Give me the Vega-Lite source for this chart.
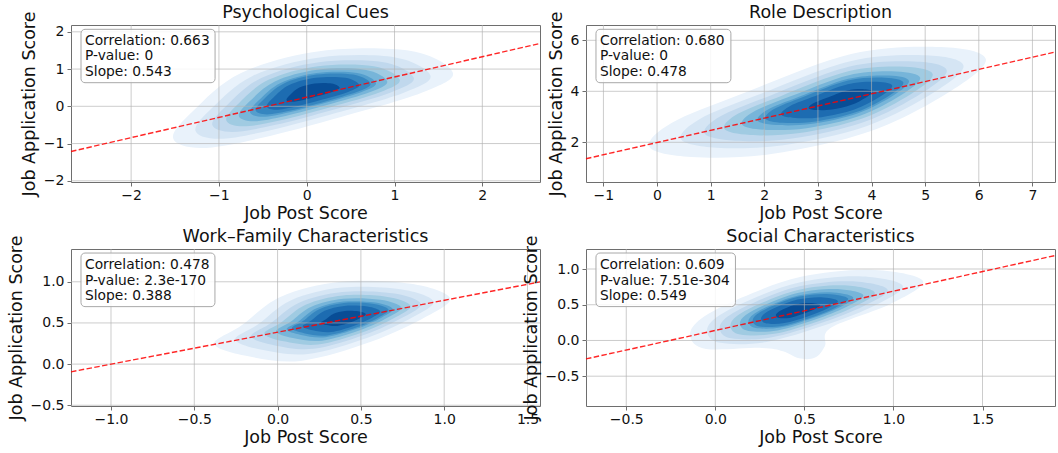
{
"$schema":"https://vega.github.io/schema/vega-lite/v6.json",
"background":"white",
"padding":{"left":6,"top":3,"right":2,"bottom":2},
"bounds":"flush",
"columns":2,
"spacing":{"row":67,"column":46},
"config":{
"font":"DejaVu Sans",
"view":{"stroke":"#6e6e6e","strokeWidth":1},
"axis":{"grid":false,"domain":false,"tickSize":4,"tickColor":"#6e6e6e","labelFontSize":14,"labelColor":"#111111","labelFont":"DejaVu Sans","titleFont":"DejaVu Sans","titleFontSize":17.5,"titleFontWeight":"normal","titleColor":"#111111","labelPadding":3,"titlePadding":5,"labelFlush":false,"labelOverlap":false},
"axisX":{"labelPadding":2,"titlePadding":2},
"title":{"fontSize":17.5,"fontWeight":"normal","font":"DejaVu Sans","color":"#111111","offset":-10,"anchor":"middle","frame":"group"}
},
"concat":[
{"width":469,"height":157,"title":"Psychological Cues",
"encoding":{"x":{"field":"x","type":"quantitative","title":"Job Post Score","scale":{"domain":[-2.685,2.657],"nice":false,"zero":false},"axis":{"values":[-2,-1,0,1,2],"format":"d"}},
"y":{"field":"y","type":"quantitative","title":"Job Application Score","scale":{"domain":[-2.032,2.183],"nice":false,"zero":false},"axis":{"values":[-2,-1,0,1,2],"format":"d"}}},
"layer":[
{"data":{"values":[
{"l":1,"i":0,"x":-1.523,"y":-0.851},{"l":1,"i":1,"x":-1.295,"y":-0.126},{"l":1,"i":2,"x":-0.748,"y":0.894},{"l":1,"i":3,"x":0.163,"y":1.485},{"l":1,"i":4,"x":1.188,"y":1.485},{"l":1,"i":5,"x":1.666,"y":0.894},{"l":1,"i":6,"x":1.302,"y":0.357},{"l":1,"i":7,"x":0.391,"y":-0.287},{"l":1,"i":8,"x":-0.520,"y":-0.851},{"l":1,"i":9,"x":-1.204,"y":-1.119},
{"l":2,"i":0,"x":-1.268,"y":-0.649},{"l":2,"i":1,"x":-1.076,"y":-0.040},{"l":2,"i":2,"x":-0.617,"y":0.817},{"l":2,"i":3,"x":0.148,"y":1.313},{"l":2,"i":4,"x":1.009,"y":1.313},{"l":2,"i":5,"x":1.411,"y":0.817},{"l":2,"i":6,"x":1.105,"y":0.366},{"l":2,"i":7,"x":0.340,"y":-0.175},{"l":2,"i":8,"x":-0.425,"y":-0.649},{"l":2,"i":9,"x":-1.000,"y":-0.874},
{"l":3,"i":0,"x":-1.076,"y":-0.498},{"l":3,"i":1,"x":-0.912,"y":0.024},{"l":3,"i":2,"x":-0.518,"y":0.759},{"l":3,"i":3,"x":0.138,"y":1.184},{"l":3,"i":4,"x":0.876,"y":1.184},{"l":3,"i":5,"x":1.220,"y":0.759},{"l":3,"i":6,"x":0.958,"y":0.372},{"l":3,"i":7,"x":0.302,"y":-0.092},{"l":3,"i":8,"x":-0.354,"y":-0.498},{"l":3,"i":9,"x":-0.847,"y":-0.691},
{"l":4,"i":0,"x":-0.917,"y":-0.371},{"l":4,"i":1,"x":-0.776,"y":0.078},{"l":4,"i":2,"x":-0.436,"y":0.710},{"l":4,"i":3,"x":0.128,"y":1.077},{"l":4,"i":4,"x":0.764,"y":1.077},{"l":4,"i":5,"x":1.060,"y":0.710},{"l":4,"i":6,"x":0.835,"y":0.378},{"l":4,"i":7,"x":0.270,"y":-0.022},{"l":4,"i":8,"x":-0.295,"y":-0.371},{"l":4,"i":9,"x":-0.719,"y":-0.538},
{"l":5,"i":0,"x":-0.773,"y":-0.258},{"l":5,"i":1,"x":-0.653,"y":0.126},{"l":5,"i":2,"x":-0.363,"y":0.667},{"l":5,"i":3,"x":0.120,"y":0.980},{"l":5,"i":4,"x":0.663,"y":0.980},{"l":5,"i":5,"x":0.917,"y":0.667},{"l":5,"i":6,"x":0.724,"y":0.382},{"l":5,"i":7,"x":0.241,"y":0.041},{"l":5,"i":8,"x":-0.242,"y":-0.258},{"l":5,"i":9,"x":-0.604,"y":-0.400},
{"l":6,"i":0,"x":-0.646,"y":-0.157},{"l":6,"i":1,"x":-0.543,"y":0.169},{"l":6,"i":2,"x":-0.297,"y":0.628},{"l":6,"i":3,"x":0.113,"y":0.894},{"l":6,"i":4,"x":0.574,"y":0.894},{"l":6,"i":5,"x":0.789,"y":0.628},{"l":6,"i":6,"x":0.626,"y":0.387},{"l":6,"i":7,"x":0.216,"y":0.097},{"l":6,"i":8,"x":-0.194,"y":-0.157},{"l":6,"i":9,"x":-0.502,"y":-0.278},
{"l":7,"i":0,"x":-0.582,"y":-0.107},{"l":7,"i":1,"x":-0.489,"y":0.191},{"l":7,"i":2,"x":-0.264,"y":0.609},{"l":7,"i":3,"x":0.110,"y":0.851},{"l":7,"i":4,"x":0.530,"y":0.851},{"l":7,"i":5,"x":0.726,"y":0.609},{"l":7,"i":6,"x":0.577,"y":0.389},{"l":7,"i":7,"x":0.203,"y":0.125},{"l":7,"i":8,"x":-0.171,"y":-0.107},{"l":7,"i":9,"x":-0.451,"y":-0.217},
{"l":8,"i":0,"x":-0.455,"y":-0.006},{"l":8,"i":1,"x":-0.379,"y":0.234},{"l":8,"i":2,"x":-0.199,"y":0.571},{"l":8,"i":3,"x":0.102,"y":0.765},{"l":8,"i":4,"x":0.441,"y":0.765},{"l":8,"i":5,"x":0.598,"y":0.571},{"l":8,"i":6,"x":0.478,"y":0.393},{"l":8,"i":7,"x":0.178,"y":0.181},{"l":8,"i":8,"x":-0.124,"y":-0.006},{"l":8,"i":9,"x":-0.349,"y":-0.094},
{"l":9,"i":0,"x":-0.231,"y":0.171},{"l":9,"i":1,"x":-0.188,"y":0.309},{"l":9,"i":2,"x":-0.084,"y":0.503},{"l":9,"i":3,"x":0.089,"y":0.615},{"l":9,"i":4,"x":0.284,"y":0.615},{"l":9,"i":5,"x":0.375,"y":0.503},{"l":9,"i":6,"x":0.306,"y":0.401},{"l":9,"i":7,"x":0.133,"y":0.278},{"l":9,"i":8,"x":-0.040,"y":0.171},{"l":9,"i":9,"x":-0.170,"y":0.120}
]},
"mark":{"type":"line","interpolate":"cardinal-closed","strokeWidth":0,"clip":true},
"encoding":{"fill":{"field":"l","type":"ordinal","scale":{"domain":[1,2,3,4,5,6,7,8,9],"range":["#e9f2fb","#d5e5f4","#c0d8ed","#a0cbe2","#77b5d9","#549ecd","#3686c0","#1d6cb1","#084d96"]},"legend":null},"detail":{"field":"l","type":"ordinal"},"order":{"field":"i","type":"quantitative"}}},
{"data":{"values":[{"x":-2,"x2":-2,"y":-2.032,"y2":2.183},{"x":-1,"x2":-1,"y":-2.032,"y2":2.183},{"x":0,"x2":0,"y":-2.032,"y2":2.183},{"x":1,"x2":1,"y":-2.032,"y2":2.183},{"x":2,"x2":2,"y":-2.032,"y2":2.183},
{"x":-2.685,"x2":2.657,"y":-2,"y2":-2},{"x":-2.685,"x2":2.657,"y":-1,"y2":-1},{"x":-2.685,"x2":2.657,"y":0,"y2":0},{"x":-2.685,"x2":2.657,"y":1,"y2":1},{"x":-2.685,"x2":2.657,"y":2,"y2":2}]},
"mark":{"type":"rule","color":"#b0b0b0","opacity":0.65,"strokeWidth":1},
"encoding":{"x2":{"field":"x2"},"y2":{"field":"y2"}}},
{"data":{"values":[{"x":-2.685,"y":-1.213,"x2":2.657,"y2":1.688}]},
"mark":{"type":"rule","color":"#ff0000","opacity":0.85,"strokeWidth":1.4,"strokeDash":[5.5,2.4]},
"encoding":{"x2":{"field":"x2"},"y2":{"field":"y2"}}},
{"data":{"values":[{"x":-2.571,"x2":-1.044,"y":2.067,"y2":0.634}]},
"mark":{"type":"rect","fill":"white","fillOpacity":0.85,"stroke":"#a8a8a8","strokeWidth":1,"cornerRadius":4},
"encoding":{"x2":{"field":"x2"},"y2":{"field":"y2"}}},
{"data":{"values":[{"x":-2.525,"y":1.646,"t":"Correlation: 0.663"},{"x":-2.525,"y":1.230,"t":"P-value: 0"},{"x":-2.525,"y":0.813,"t":"Slope: 0.543"}]},
"mark":{"type":"text","align":"left","baseline":"alphabetic","fontSize":13.8,"font":"DejaVu Sans","color":"#111111"},
"encoding":{"text":{"field":"t"}}}
]},
{"width":469,"height":157,"title":"Role Description",
"encoding":{"x":{"field":"x","type":"quantitative","title":"Job Post Score","scale":{"domain":[-1.325,7.421],"nice":false,"zero":false},"axis":{"values":[-1,0,1,2,3,4,5,6,7],"format":"d"}},
"y":{"field":"y","type":"quantitative","title":"Job Application Score","scale":{"domain":[0.443,6.6],"nice":false,"zero":false},"axis":{"values":[2,4,6],"format":"d"}}},
"layer":[
{"data":{"values":[
{"l":1,"i":0,"x":-0.140,"y":1.816},{"l":1,"i":1,"x":0.270,"y":2.757},{"l":1,"i":2,"x":1.572,"y":3.894},{"l":1,"i":3,"x":3.619,"y":5.463},{"l":1,"i":4,"x":5.294,"y":5.737},{"l":1,"i":5,"x":6.131,"y":5.267},{"l":1,"i":6,"x":5.480,"y":4.012},{"l":1,"i":7,"x":3.991,"y":2.443},{"l":1,"i":8,"x":2.131,"y":1.541},{"l":1,"i":9,"x":0.642,"y":1.424},
{"l":2,"i":0,"x":0.447,"y":2.117},{"l":2,"i":1,"x":0.791,"y":2.908},{"l":2,"i":2,"x":1.885,"y":3.863},{"l":2,"i":3,"x":3.604,"y":5.181},{"l":2,"i":4,"x":5.011,"y":5.411},{"l":2,"i":5,"x":5.714,"y":5.016},{"l":2,"i":6,"x":5.167,"y":3.962},{"l":2,"i":7,"x":3.917,"y":2.644},{"l":2,"i":8,"x":2.354,"y":1.886},{"l":2,"i":9,"x":1.103,"y":1.788},
{"l":3,"i":0,"x":0.886,"y":2.343},{"l":3,"i":1,"x":1.182,"y":3.020},{"l":3,"i":2,"x":2.119,"y":3.839},{"l":3,"i":3,"x":3.593,"y":4.969},{"l":3,"i":4,"x":4.799,"y":5.166},{"l":3,"i":5,"x":5.402,"y":4.828},{"l":3,"i":6,"x":4.933,"y":3.924},{"l":3,"i":7,"x":3.861,"y":2.794},{"l":3,"i":8,"x":2.522,"y":2.145},{"l":3,"i":9,"x":1.450,"y":2.061},
{"l":4,"i":0,"x":1.253,"y":2.531},{"l":4,"i":1,"x":1.507,"y":3.115},{"l":4,"i":2,"x":2.315,"y":3.820},{"l":4,"i":3,"x":3.584,"y":4.792},{"l":4,"i":4,"x":4.622,"y":4.962},{"l":4,"i":5,"x":5.141,"y":4.671},{"l":4,"i":6,"x":4.737,"y":3.893},{"l":4,"i":7,"x":3.814,"y":2.920},{"l":4,"i":8,"x":2.661,"y":2.361},{"l":4,"i":9,"x":1.738,"y":2.288},
{"l":5,"i":0,"x":1.583,"y":2.701},{"l":5,"i":1,"x":1.800,"y":3.199},{"l":5,"i":2,"x":2.490,"y":3.802},{"l":5,"i":3,"x":3.575,"y":4.633},{"l":5,"i":4,"x":4.463,"y":4.779},{"l":5,"i":5,"x":4.907,"y":4.530},{"l":5,"i":6,"x":4.562,"y":3.864},{"l":5,"i":7,"x":3.772,"y":3.033},{"l":5,"i":8,"x":2.787,"y":2.555},{"l":5,"i":9,"x":1.997,"y":2.493},
{"l":6,"i":0,"x":1.876,"y":2.851},{"l":6,"i":1,"x":2.061,"y":3.275},{"l":6,"i":2,"x":2.647,"y":3.786},{"l":6,"i":3,"x":3.568,"y":4.492},{"l":6,"i":4,"x":4.322,"y":4.616},{"l":6,"i":5,"x":4.698,"y":4.404},{"l":6,"i":6,"x":4.405,"y":3.839},{"l":6,"i":7,"x":3.735,"y":3.133},{"l":6,"i":8,"x":2.898,"y":2.727},{"l":6,"i":9,"x":2.228,"y":2.675},
{"l":7,"i":0,"x":2.023,"y":2.927},{"l":7,"i":1,"x":2.191,"y":3.313},{"l":7,"i":2,"x":2.725,"y":3.779},{"l":7,"i":3,"x":3.564,"y":4.422},{"l":7,"i":4,"x":4.251,"y":4.534},{"l":7,"i":5,"x":4.594,"y":4.342},{"l":7,"i":6,"x":4.327,"y":3.827},{"l":7,"i":7,"x":3.717,"y":3.184},{"l":7,"i":8,"x":2.954,"y":2.814},{"l":7,"i":9,"x":2.344,"y":2.766},
{"l":8,"i":0,"x":2.317,"y":3.077},{"l":8,"i":1,"x":2.452,"y":3.388},{"l":8,"i":2,"x":2.881,"y":3.763},{"l":8,"i":3,"x":3.557,"y":4.281},{"l":8,"i":4,"x":4.110,"y":4.371},{"l":8,"i":5,"x":4.386,"y":4.216},{"l":8,"i":6,"x":4.171,"y":3.802},{"l":8,"i":7,"x":3.680,"y":3.284},{"l":8,"i":8,"x":3.066,"y":2.986},{"l":8,"i":9,"x":2.575,"y":2.948},
{"l":9,"i":0,"x":2.829,"y":3.340},{"l":9,"i":1,"x":2.907,"y":3.519},{"l":9,"i":2,"x":3.155,"y":3.735},{"l":9,"i":3,"x":3.544,"y":4.033},{"l":9,"i":4,"x":3.862,"y":4.085},{"l":9,"i":5,"x":4.021,"y":3.996},{"l":9,"i":6,"x":3.897,"y":3.758},{"l":9,"i":7,"x":3.614,"y":3.460},{"l":9,"i":8,"x":3.261,"y":3.288},{"l":9,"i":9,"x":2.978,"y":3.266}
]},
"mark":{"type":"line","interpolate":"cardinal-closed","strokeWidth":0,"clip":true},
"encoding":{"fill":{"field":"l","type":"ordinal","scale":{"domain":[1,2,3,4,5,6,7,8,9],"range":["#e9f2fb","#d5e5f4","#c0d8ed","#a0cbe2","#77b5d9","#549ecd","#3686c0","#1d6cb1","#084d96"]},"legend":null},"detail":{"field":"l","type":"ordinal"},"order":{"field":"i","type":"quantitative"}}},
{"data":{"values":[{"x":-1,"x2":-1,"y":0.443,"y2":6.6},{"x":0,"x2":0,"y":0.443,"y2":6.6},{"x":1,"x2":1,"y":0.443,"y2":6.6},{"x":2,"x2":2,"y":0.443,"y2":6.6},{"x":3,"x2":3,"y":0.443,"y2":6.6},{"x":4,"x2":4,"y":0.443,"y2":6.6},{"x":5,"x2":5,"y":0.443,"y2":6.6},{"x":6,"x2":6,"y":0.443,"y2":6.6},{"x":7,"x2":7,"y":0.443,"y2":6.6},
{"x":-1.325,"x2":7.421,"y":2,"y2":2},{"x":-1.325,"x2":7.421,"y":4,"y2":4},{"x":-1.325,"x2":7.421,"y":6,"y2":6}]},
"mark":{"type":"rule","color":"#b0b0b0","opacity":0.65,"strokeWidth":1},
"encoding":{"x2":{"field":"x2"},"y2":{"field":"y2"}}},
{"data":{"values":[{"x":-1.325,"y":1.357,"x2":7.421,"y2":5.537}]},
"mark":{"type":"rule","color":"#ff0000","opacity":0.85,"strokeWidth":1.4,"strokeDash":[5.5,2.4]},
"encoding":{"x2":{"field":"x2"},"y2":{"field":"y2"}}},
{"data":{"values":[{"x":-1.139,"x2":1.377,"y":6.431,"y2":4.337}]},
"mark":{"type":"rect","fill":"white","fillOpacity":0.85,"stroke":"#a8a8a8","strokeWidth":1,"cornerRadius":4},
"encoding":{"x2":{"field":"x2"},"y2":{"field":"y2"}}},
{"data":{"values":[{"x":-1.064,"y":5.816,"t":"Correlation: 0.680"},{"x":-1.064,"y":5.208,"t":"P-value: 0"},{"x":-1.064,"y":4.600,"t":"Slope: 0.478"}]},
"mark":{"type":"text","align":"left","baseline":"alphabetic","fontSize":13.8,"font":"DejaVu Sans","color":"#111111"},
"encoding":{"text":{"field":"t"}}}
]},
{"width":469,"height":157,"title":"Work–Family Characteristics",
"encoding":{"x":{"field":"x","type":"quantitative","title":"Job Post Score","scale":{"domain":[-1.24,1.575],"nice":false,"zero":false},"axis":{"values":[-1,-0.5,0,0.5,1,1.5],"format":".1f"}},
"y":{"field":"y","type":"quantitative","title":"Job Application Score","scale":{"domain":[-0.509,1.398],"nice":false,"zero":false},"axis":{"values":[-0.5,0,0.5,1],"format":".1f"}}},
"layer":[
{"data":{"values":[
{"l":1,"i":0,"x":-0.380,"y":0.246},{"l":1,"i":1,"x":-0.220,"y":0.465},{"l":1,"i":2,"x":0.020,"y":0.818},{"l":1,"i":3,"x":0.380,"y":1.000},{"l":1,"i":4,"x":0.800,"y":0.976},{"l":1,"i":5,"x":1.034,"y":0.805},{"l":1,"i":6,"x":0.890,"y":0.574},{"l":1,"i":7,"x":0.560,"y":0.270},{"l":1,"i":8,"x":0.140,"y":0.039},{"l":1,"i":9,"x":-0.190,"y":0.100},
{"l":2,"i":0,"x":-0.254,"y":0.300},{"l":2,"i":1,"x":-0.119,"y":0.481},{"l":2,"i":2,"x":0.082,"y":0.777},{"l":2,"i":3,"x":0.385,"y":0.930},{"l":2,"i":4,"x":0.738,"y":0.910},{"l":2,"i":5,"x":0.934,"y":0.766},{"l":2,"i":6,"x":0.813,"y":0.572},{"l":2,"i":7,"x":0.536,"y":0.317},{"l":2,"i":8,"x":0.183,"y":0.123},{"l":2,"i":9,"x":-0.094,"y":0.174},
{"l":3,"i":0,"x":-0.159,"y":0.337},{"l":3,"i":1,"x":-0.044,"y":0.492},{"l":3,"i":2,"x":0.129,"y":0.746},{"l":3,"i":3,"x":0.388,"y":0.877},{"l":3,"i":4,"x":0.691,"y":0.860},{"l":3,"i":5,"x":0.859,"y":0.737},{"l":3,"i":6,"x":0.756,"y":0.571},{"l":3,"i":7,"x":0.518,"y":0.352},{"l":3,"i":8,"x":0.216,"y":0.185},{"l":3,"i":9,"x":-0.022,"y":0.229},
{"l":4,"i":0,"x":-0.080,"y":0.369},{"l":4,"i":1,"x":0.019,"y":0.502},{"l":4,"i":2,"x":0.168,"y":0.721},{"l":4,"i":3,"x":0.391,"y":0.834},{"l":4,"i":4,"x":0.652,"y":0.819},{"l":4,"i":5,"x":0.797,"y":0.713},{"l":4,"i":6,"x":0.708,"y":0.569},{"l":4,"i":7,"x":0.503,"y":0.381},{"l":4,"i":8,"x":0.243,"y":0.238},{"l":4,"i":9,"x":0.038,"y":0.276},
{"l":5,"i":0,"x":-0.009,"y":0.397},{"l":5,"i":1,"x":0.076,"y":0.511},{"l":5,"i":2,"x":0.203,"y":0.698},{"l":5,"i":3,"x":0.394,"y":0.794},{"l":5,"i":4,"x":0.617,"y":0.781},{"l":5,"i":5,"x":0.741,"y":0.691},{"l":5,"i":6,"x":0.664,"y":0.568},{"l":5,"i":7,"x":0.490,"y":0.407},{"l":5,"i":8,"x":0.267,"y":0.285},{"l":5,"i":9,"x":0.092,"y":0.317},
{"l":6,"i":0,"x":0.054,"y":0.422},{"l":6,"i":1,"x":0.126,"y":0.518},{"l":6,"i":2,"x":0.234,"y":0.677},{"l":6,"i":3,"x":0.396,"y":0.759},{"l":6,"i":4,"x":0.586,"y":0.748},{"l":6,"i":5,"x":0.691,"y":0.671},{"l":6,"i":6,"x":0.626,"y":0.567},{"l":6,"i":7,"x":0.478,"y":0.431},{"l":6,"i":8,"x":0.288,"y":0.327},{"l":6,"i":9,"x":0.140,"y":0.354},
{"l":7,"i":0,"x":0.086,"y":0.435},{"l":7,"i":1,"x":0.152,"y":0.522},{"l":7,"i":2,"x":0.250,"y":0.667},{"l":7,"i":3,"x":0.398,"y":0.742},{"l":7,"i":4,"x":0.570,"y":0.732},{"l":7,"i":5,"x":0.666,"y":0.662},{"l":7,"i":6,"x":0.607,"y":0.567},{"l":7,"i":7,"x":0.472,"y":0.443},{"l":7,"i":8,"x":0.299,"y":0.348},{"l":7,"i":9,"x":0.164,"y":0.373},
{"l":8,"i":0,"x":0.150,"y":0.460},{"l":8,"i":1,"x":0.202,"y":0.530},{"l":8,"i":2,"x":0.282,"y":0.647},{"l":8,"i":3,"x":0.400,"y":0.707},{"l":8,"i":4,"x":0.539,"y":0.699},{"l":8,"i":5,"x":0.616,"y":0.642},{"l":8,"i":6,"x":0.569,"y":0.566},{"l":8,"i":7,"x":0.460,"y":0.466},{"l":8,"i":8,"x":0.321,"y":0.389},{"l":8,"i":9,"x":0.212,"y":0.410},
{"l":9,"i":0,"x":0.260,"y":0.503},{"l":9,"i":1,"x":0.290,"y":0.544},{"l":9,"i":2,"x":0.336,"y":0.611},{"l":9,"i":3,"x":0.404,"y":0.645},{"l":9,"i":4,"x":0.484,"y":0.641},{"l":9,"i":5,"x":0.529,"y":0.608},{"l":9,"i":6,"x":0.501,"y":0.564},{"l":9,"i":7,"x":0.439,"y":0.507},{"l":9,"i":8,"x":0.359,"y":0.463},{"l":9,"i":9,"x":0.296,"y":0.474}
]},
"mark":{"type":"line","interpolate":"cardinal-closed","strokeWidth":0,"clip":true},
"encoding":{"fill":{"field":"l","type":"ordinal","scale":{"domain":[1,2,3,4,5,6,7,8,9],"range":["#e9f2fb","#d5e5f4","#c0d8ed","#a0cbe2","#77b5d9","#549ecd","#3686c0","#1d6cb1","#084d96"]},"legend":null},"detail":{"field":"l","type":"ordinal"},"order":{"field":"i","type":"quantitative"}}},
{"data":{"values":[{"x":-1,"x2":-1,"y":-0.509,"y2":1.398},{"x":-0.5,"x2":-0.5,"y":-0.509,"y2":1.398},{"x":0,"x2":0,"y":-0.509,"y2":1.398},{"x":0.5,"x2":0.5,"y":-0.509,"y2":1.398},{"x":1,"x2":1,"y":-0.509,"y2":1.398},{"x":1.5,"x2":1.5,"y":-0.509,"y2":1.398},
{"x":-1.24,"x2":1.575,"y":-0.5,"y2":-0.5},{"x":-1.24,"x2":1.575,"y":0,"y2":0},{"x":-1.24,"x2":1.575,"y":0.5,"y2":0.5},{"x":-1.24,"x2":1.575,"y":1,"y2":1}]},
"mark":{"type":"rule","color":"#b0b0b0","opacity":0.65,"strokeWidth":1},
"encoding":{"x2":{"field":"x2"},"y2":{"field":"y2"}}},
{"data":{"values":[{"x":-1.24,"y":-0.094,"x2":1.575,"y2":0.998}]},
"mark":{"type":"rule","color":"#ff0000","opacity":0.85,"strokeWidth":1.4,"strokeDash":[5.5,2.4]},
"encoding":{"x2":{"field":"x2"},"y2":{"field":"y2"}}},
{"data":{"values":[{"x":-1.18,"x2":-0.376,"y":1.349,"y2":0.698}]},
"mark":{"type":"rect","fill":"white","fillOpacity":0.85,"stroke":"#a8a8a8","strokeWidth":1,"cornerRadius":4},
"encoding":{"x2":{"field":"x2"},"y2":{"field":"y2"}}},
{"data":{"values":[{"x":-1.156,"y":1.155,"t":"Correlation: 0.478"},{"x":-1.156,"y":0.966,"t":"P-value: 2.3e-170"},{"x":-1.156,"y":0.777,"t":"Slope: 0.388"}]},
"mark":{"type":"text","align":"left","baseline":"alphabetic","fontSize":13.8,"font":"DejaVu Sans","color":"#111111"},
"encoding":{"text":{"field":"t"}}}
]},
{"width":469,"height":157,"title":"Social Characteristics",
"encoding":{"x":{"field":"x","type":"quantitative","title":"Job Post Score","scale":{"domain":[-0.726,1.907],"nice":false,"zero":false},"axis":{"values":[-0.5,0,0.5,1,1.5],"format":".1f"}},
"y":{"field":"y","type":"quantitative","title":"Job Application Score","scale":{"domain":[-0.917,1.28],"nice":false,"zero":false},"axis":{"values":[-0.5,0,0.5,1],"format":".1f"}}},
"layer":[
{"data":{"values":[
{"l":1,"i":0,"x":-0.141,"y":0.064},{"l":1,"i":1,"x":-0.080,"y":0.303},{"l":1,"i":2,"x":0.145,"y":0.597},{"l":1,"i":3,"x":0.481,"y":0.892},{"l":1,"i":4,"x":0.874,"y":0.990},{"l":1,"i":5,"x":1.165,"y":0.836},{"l":1,"i":6,"x":0.986,"y":0.513},{"l":1,"i":7,"x":0.649,"y":0.177},{"l":1,"i":8,"x":0.615,"y":-0.080},{"l":1,"i":9,"x":0.560,"y":-0.240},{"l":1,"i":10,"x":0.470,"y":-0.250},{"l":1,"i":11,"x":0.380,"y":-0.150},{"l":1,"i":12,"x":0.257,"y":-0.104},{"l":1,"i":13,"x":-0.052,"y":-0.118},
{"l":2,"i":0,"x":-0.046,"y":0.120},{"l":2,"i":1,"x":0.005,"y":0.321},{"l":2,"i":2,"x":0.194,"y":0.568},{"l":2,"i":3,"x":0.477,"y":0.816},{"l":2,"i":4,"x":0.807,"y":0.898},{"l":2,"i":5,"x":1.051,"y":0.769},{"l":2,"i":6,"x":0.901,"y":0.497},{"l":2,"i":7,"x":0.618,"y":0.215},{"l":2,"i":8,"x":0.288,"y":-0.021},{"l":2,"i":9,"x":0.029,"y":-0.033},
{"l":3,"i":0,"x":0.025,"y":0.162},{"l":3,"i":1,"x":0.069,"y":0.334},{"l":3,"i":2,"x":0.231,"y":0.546},{"l":3,"i":3,"x":0.473,"y":0.758},{"l":3,"i":4,"x":0.756,"y":0.829},{"l":3,"i":5,"x":0.966,"y":0.718},{"l":3,"i":6,"x":0.837,"y":0.486},{"l":3,"i":7,"x":0.594,"y":0.244},{"l":3,"i":8,"x":0.312,"y":0.041},{"l":3,"i":9,"x":0.089,"y":0.031},
{"l":4,"i":0,"x":0.085,"y":0.197},{"l":4,"i":1,"x":0.123,"y":0.346},{"l":4,"i":2,"x":0.262,"y":0.528},{"l":4,"i":3,"x":0.470,"y":0.711},{"l":4,"i":4,"x":0.714,"y":0.772},{"l":4,"i":5,"x":0.894,"y":0.676},{"l":4,"i":6,"x":0.783,"y":0.476},{"l":4,"i":7,"x":0.575,"y":0.267},{"l":4,"i":8,"x":0.331,"y":0.093},{"l":4,"i":9,"x":0.140,"y":0.085},
{"l":5,"i":0,"x":0.138,"y":0.229},{"l":5,"i":1,"x":0.171,"y":0.356},{"l":5,"i":2,"x":0.290,"y":0.511},{"l":5,"i":3,"x":0.468,"y":0.668},{"l":5,"i":4,"x":0.676,"y":0.720},{"l":5,"i":5,"x":0.830,"y":0.638},{"l":5,"i":6,"x":0.735,"y":0.467},{"l":5,"i":7,"x":0.557,"y":0.289},{"l":5,"i":8,"x":0.349,"y":0.140},{"l":5,"i":9,"x":0.185,"y":0.133},
{"l":6,"i":0,"x":0.186,"y":0.257},{"l":6,"i":1,"x":0.213,"y":0.365},{"l":6,"i":2,"x":0.314,"y":0.497},{"l":6,"i":3,"x":0.466,"y":0.630},{"l":6,"i":4,"x":0.642,"y":0.674},{"l":6,"i":5,"x":0.773,"y":0.604},{"l":6,"i":6,"x":0.693,"y":0.459},{"l":6,"i":7,"x":0.541,"y":0.308},{"l":6,"i":8,"x":0.365,"y":0.181},{"l":6,"i":9,"x":0.226,"y":0.175},
{"l":7,"i":0,"x":0.210,"y":0.271},{"l":7,"i":1,"x":0.235,"y":0.370},{"l":7,"i":2,"x":0.327,"y":0.490},{"l":7,"i":3,"x":0.465,"y":0.611},{"l":7,"i":4,"x":0.626,"y":0.651},{"l":7,"i":5,"x":0.745,"y":0.588},{"l":7,"i":6,"x":0.672,"y":0.455},{"l":7,"i":7,"x":0.534,"y":0.318},{"l":7,"i":8,"x":0.373,"y":0.202},{"l":7,"i":9,"x":0.246,"y":0.197},
{"l":8,"i":0,"x":0.257,"y":0.299},{"l":8,"i":1,"x":0.277,"y":0.379},{"l":8,"i":2,"x":0.352,"y":0.475},{"l":8,"i":3,"x":0.462,"y":0.572},{"l":8,"i":4,"x":0.592,"y":0.605},{"l":8,"i":5,"x":0.688,"y":0.554},{"l":8,"i":6,"x":0.629,"y":0.447},{"l":8,"i":7,"x":0.518,"y":0.337},{"l":8,"i":8,"x":0.388,"y":0.244},{"l":8,"i":9,"x":0.287,"y":0.239},
{"l":9,"i":0,"x":0.340,"y":0.348},{"l":9,"i":1,"x":0.352,"y":0.394},{"l":9,"i":2,"x":0.394,"y":0.450},{"l":9,"i":3,"x":0.458,"y":0.506},{"l":9,"i":4,"x":0.533,"y":0.524},{"l":9,"i":5,"x":0.588,"y":0.495},{"l":9,"i":6,"x":0.554,"y":0.434},{"l":9,"i":7,"x":0.490,"y":0.370},{"l":9,"i":8,"x":0.416,"y":0.316},{"l":9,"i":9,"x":0.357,"y":0.314}
]},
"mark":{"type":"line","interpolate":"cardinal-closed","strokeWidth":0,"clip":true},
"encoding":{"fill":{"field":"l","type":"ordinal","scale":{"domain":[1,2,3,4,5,6,7,8,9],"range":["#e9f2fb","#d5e5f4","#c0d8ed","#a0cbe2","#77b5d9","#549ecd","#3686c0","#1d6cb1","#084d96"]},"legend":null},"detail":{"field":"l","type":"ordinal"},"order":{"field":"i","type":"quantitative"}}},
{"data":{"values":[{"x":-0.5,"x2":-0.5,"y":-0.917,"y2":1.28},{"x":0,"x2":0,"y":-0.917,"y2":1.28},{"x":0.5,"x2":0.5,"y":-0.917,"y2":1.28},{"x":1,"x2":1,"y":-0.917,"y2":1.28},{"x":1.5,"x2":1.5,"y":-0.917,"y2":1.28},
{"x":-0.726,"x2":1.907,"y":-0.5,"y2":-0.5},{"x":-0.726,"x2":1.907,"y":0,"y2":0},{"x":-0.726,"x2":1.907,"y":0.5,"y2":0.5},{"x":-0.726,"x2":1.907,"y":1,"y2":1}]},
"mark":{"type":"rule","color":"#b0b0b0","opacity":0.65,"strokeWidth":1},
"encoding":{"x2":{"field":"x2"},"y2":{"field":"y2"}}},
{"data":{"values":[{"x":-0.726,"y":-0.258,"x2":1.907,"y2":1.188}]},
"mark":{"type":"rule","color":"#ff0000","opacity":0.85,"strokeWidth":1.4,"strokeDash":[5.5,2.4]},
"encoding":{"x2":{"field":"x2"},"y2":{"field":"y2"}}},
{"data":{"values":[{"x":-0.67,"x2":0.113,"y":1.224,"y2":0.474}]},
"mark":{"type":"rect","fill":"white","fillOpacity":0.85,"stroke":"#a8a8a8","strokeWidth":1,"cornerRadius":4},
"encoding":{"x2":{"field":"x2"},"y2":{"field":"y2"}}},
{"data":{"values":[{"x":-0.648,"y":1.0,"t":"Correlation: 0.609"},{"x":-0.648,"y":0.782,"t":"P-value: 7.51e-304"},{"x":-0.648,"y":0.565,"t":"Slope: 0.549"}]},
"mark":{"type":"text","align":"left","baseline":"alphabetic","fontSize":13.8,"font":"DejaVu Sans","color":"#111111"},
"encoding":{"text":{"field":"t"}}}
]}
]
}
